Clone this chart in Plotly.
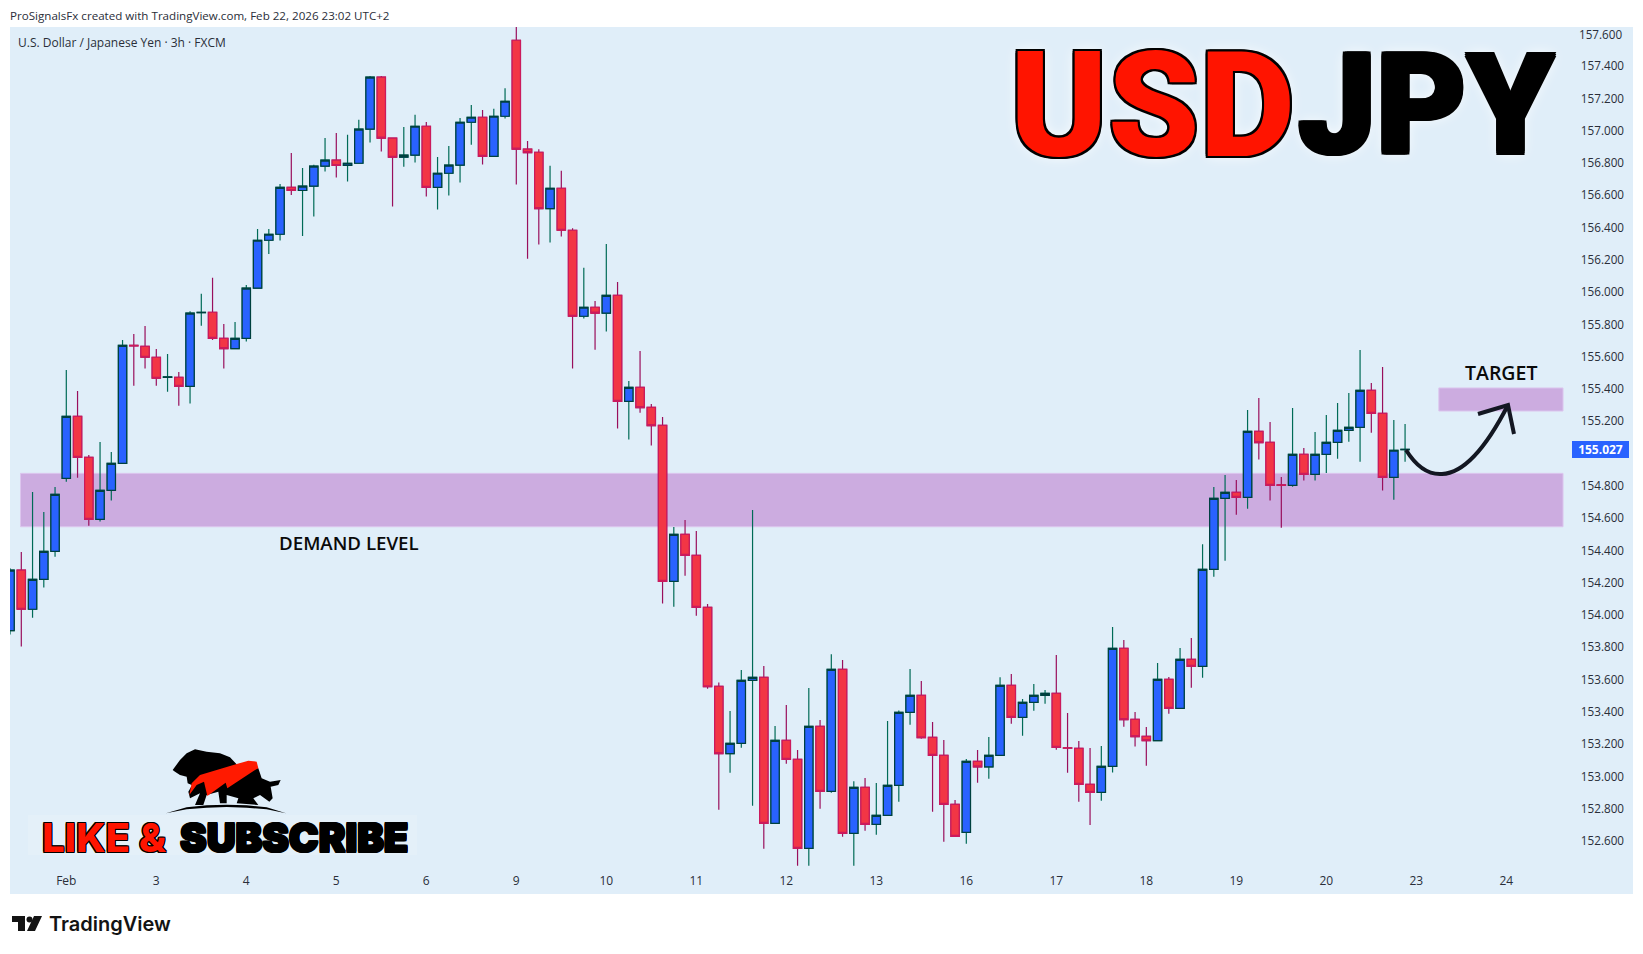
import plotly.graph_objects as go

# -----------------------------
# 1. Price data (3h bars)
# -----------------------------
open_ = [153.903, 154.279, 154.036, 154.221, 154.395, 154.847, 155.231, 154.977, 154.593, 154.773,
         154.940, 155.671, 155.665, 155.597, 155.473, 155.473, 155.417, 155.874, 155.876, 155.714,
         155.650, 155.714, 156.025, 156.322, 156.359, 156.650, 156.630, 156.657, 156.781, 156.818,
         156.785, 156.799, 157.010, 157.332, 156.954, 156.836, 156.849, 157.028, 156.650, 156.737,
         156.787, 157.053, 157.084, 156.842, 157.090, 157.561, 156.886, 156.867, 156.518, 156.644,
         156.384, 155.851, 155.907, 155.870, 155.981, 155.324, 155.411, 155.287, 155.175, 154.209,
         154.500, 154.370, 154.048, 153.558, 153.141, 153.205, 153.595, 153.614, 152.710, 153.224,
         153.106, 152.555, 153.310, 152.908, 153.663, 152.648, 152.932, 152.703, 152.759, 152.945,
         153.397, 153.502, 153.242, 153.131, 152.827, 152.654, 153.094, 153.060, 153.131, 153.564,
         153.366, 153.459, 153.502, 153.515, 153.178, 153.174, 152.951, 152.902, 153.063, 153.794,
         153.354, 153.249, 153.222, 153.602, 153.422, 153.726, 153.682, 154.283, 154.723, 154.760,
         154.729, 155.138, 155.070, 154.806, 154.804, 154.996, 154.872, 154.996, 155.070, 155.144,
         155.163, 155.392, 155.250, 154.853, 155.025]
high = [154.290, 154.391, 154.762, 154.639, 154.793, 155.518, 155.388, 154.992, 155.072, 155.010,
        155.704, 155.741, 155.791, 155.648, 155.617, 155.506, 155.882, 155.990, 156.089, 155.803,
        155.816, 156.045, 156.392, 156.392, 156.671, 156.863, 156.770, 156.789, 156.956, 156.987,
        156.975, 157.068, 157.340, 157.340, 156.954, 157.024, 157.099, 157.055, 156.838, 156.906,
        157.080, 157.160, 157.129, 157.136, 157.264, 157.646, 156.937, 156.886, 156.783, 156.752,
        156.396, 156.151, 155.946, 156.299, 156.064, 155.450, 155.636, 155.308, 155.227, 154.546,
        154.589, 154.521, 154.068, 153.583, 153.405, 153.659, 154.651, 153.684, 153.312, 153.443,
        153.164, 153.548, 153.350, 153.758, 153.721, 152.970, 152.990, 152.959, 153.343, 153.409,
        153.666, 153.591, 153.337, 153.226, 152.854, 153.108, 153.164, 153.244, 153.614, 153.635,
        153.480, 153.573, 153.535, 153.752, 153.393, 153.220, 153.176, 153.189, 153.926, 153.845,
        153.399, 153.306, 153.703, 153.616, 153.796, 153.858, 154.438, 154.793, 154.868, 154.837,
        155.270, 155.345, 155.196, 154.855, 155.283, 155.035, 155.134, 155.239, 155.314, 155.376,
        155.642, 155.438, 155.537, 155.208, 155.184]
low = [153.880, 153.806, 153.984, 154.170, 154.362, 154.826, 154.851, 154.554, 154.579, 154.709,
       154.940, 155.421, 155.527, 155.421, 155.384, 155.297, 155.310, 155.793, 155.704, 155.527,
       155.650, 155.694, 156.025, 156.237, 156.320, 156.603, 156.349, 156.469, 156.748, 156.710,
       156.686, 156.799, 156.927, 156.871, 156.531, 156.778, 156.803, 156.593, 156.512, 156.599,
       156.679, 156.913, 156.791, 156.842, 157.076, 156.667, 156.208, 156.295, 156.308, 156.345,
       155.527, 155.837, 155.644, 155.756, 155.155, 155.087, 155.254, 155.050, 154.071, 154.052,
       154.244, 153.996, 153.544, 152.794, 153.023, 153.178, 152.819, 152.553, 152.710, 153.079,
       152.447, 152.447, 152.800, 152.899, 152.627, 152.447, 152.664, 152.639, 152.759, 152.844,
       153.321, 153.234, 152.782, 152.596, 152.629, 152.584, 152.961, 152.986, 153.131, 153.327,
       153.253, 153.407, 153.451, 153.166, 153.023, 152.844, 152.699, 152.850, 153.024, 153.308,
       153.185, 153.067, 153.222, 153.389, 153.422, 153.550, 153.612, 154.238, 154.337, 154.622,
       154.659, 154.963, 154.709, 154.541, 154.795, 154.833, 154.833, 154.880, 154.969, 155.074,
       154.950, 155.130, 154.771, 154.715, 154.950]
close = [154.279, 154.036, 154.221, 154.395, 154.748, 155.231, 154.977, 154.593, 154.773, 154.940,
         155.671, 155.668, 155.597, 155.467, 155.475, 155.417, 155.870, 155.876, 155.714, 155.650,
         155.714, 156.025, 156.322, 156.359, 156.650, 156.630, 156.657, 156.781, 156.818, 156.785,
         156.799, 157.010, 157.332, 156.954, 156.836, 156.849, 157.028, 156.650, 156.737, 156.787,
         157.053, 157.084, 156.842, 157.090, 157.183, 156.886, 156.865, 156.518, 156.644, 156.384,
         155.851, 155.907, 155.870, 155.981, 155.324, 155.411, 155.285, 155.173, 154.209, 154.500,
         154.370, 154.048, 153.556, 153.141, 153.205, 153.595, 153.614, 152.710, 153.224, 153.106,
         152.555, 153.310, 152.908, 153.663, 152.648, 152.932, 152.703, 152.759, 152.945, 153.397,
         153.502, 153.240, 153.131, 152.827, 152.629, 153.094, 153.060, 153.131, 153.564, 153.366,
         153.459, 153.502, 153.515, 153.180, 153.176, 152.951, 152.902, 153.063, 153.794, 153.352,
         153.247, 153.222, 153.602, 153.422, 153.726, 153.682, 154.283, 154.723, 154.760, 154.729,
         155.138, 155.068, 154.804, 154.804, 154.996, 154.872, 154.996, 155.070, 155.144, 155.163,
         155.392, 155.250, 154.853, 155.021, 155.027]

bars = list(range(-5, 120))
body_top = [max(o, c) for o, c in zip(open_, close)]
body_bot = [min(o, c) for o, c in zip(open_, close)]

tick_bars = [0, 8, 16, 24, 32, 40, 48, 56, 64, 72, 80, 88, 96, 104, 112, 120, 128]
tick_labels = ["Feb", "3", "4", "5", "6", "9", "10", "11", "12", "13", "16", "17", "18", "19", "20", "23", "24"]
# 155.000 sits under the last price tag and 157.600 is too close to the edge for an inside axis label
price_ticks = [152.6, 152.8, 153.0, 153.2, 153.4, 153.6, 153.8, 154.0, 154.2, 154.4, 154.6, 154.8,
               155.2, 155.4, 155.6, 155.8, 156.0, 156.2, 156.4, 156.6, 156.8, 157.0, 157.2, 157.4]
price_labels = ["%.3f" % p for p in price_ticks]
top_price = 157.6
last_price = 155.027
zone_demand = [154.547, 154.878]
zone_target = [155.264, 155.407]

W, H = 1643, 954
ML, MR, MT, MB = 10, 10, 27, 60

BG = "#E0EEF9"
TEXT = "#2A2E39"
FONT = "Open Sans"


# pixel position on the page -> paper fraction, for the drawn decorations
def px(x):
    return (x - ML) / (W - ML - MR)


def py(y):
    return 1 - (y - MT) / (H - MT - MB)


def poly(points, zoom_y=720):
    parts = ["%s%.5f,%.5f" % ("L" if i else "M", px(x / 3), py(zoom_y + y / 3)) for i, (x, y) in enumerate(points)]
    return " ".join(parts) + " Z"


def outline(color, w, glow=""):
    s = ["%dpx %dpx 0 %s" % (dx * w, dy * w, color) for dx in (-1, 0, 1) for dy in (-1, 0, 1) if dx or dy]
    if glow:
        s.append(glow)
    return ", ".join(s)


# -----------------------------
# 2. Candles
# -----------------------------
fig = go.Figure()

# wicks
fig.add_trace(go.Candlestick(
    x=bars, open=open_, high=high, low=low, close=close,
    increasing=dict(line=dict(color="#006B57", width=1.2), fillcolor="#2962FF"),
    decreasing=dict(line=dict(color="#990F5C", width=1.2), fillcolor="#F23645"),
    whiskerwidth=0, showlegend=False, hoverinfo="skip",
))
# bodies on top, they have a different border colour than the wicks
fig.add_trace(go.Candlestick(
    x=bars, open=open_, high=body_top, low=body_bot, close=close,
    increasing=dict(line=dict(color="#00403F", width=1.2), fillcolor="#2962FF"),
    decreasing=dict(line=dict(color="#CC1A5C", width=1.2), fillcolor="#F23645"),
    whiskerwidth=0, showlegend=False, hoverinfo="skip",
))

# -----------------------------
# 3. Zones, arrow, logos
# -----------------------------
shapes = [
    dict(type="rect", xref="x", yref="y", x0=-4.07, x1=133.04, y0=zone_demand[0], y1=zone_demand[1],
         fillcolor="#CCACE0", line=dict(color="#DCC6EE", width=1), layer="below"),
    dict(type="rect", xref="x", yref="y", x0=122.0, x1=133.04, y0=zone_target[0], y1=zone_target[1],
         fillcolor="#CCACE0", line=dict(color="#DCC6EE", width=1), layer="below"),
]

# hand drawn arrow
arrow = "M%.5f,%.5f C%.5f,%.5f %.5f,%.5f %.5f,%.5f C%.5f,%.5f %.5f,%.5f %.5f,%.5f" % (
    px(1406), py(450), px(1416), py(466), px(1428), py(475), px(1442), py(474),
    px(1466), py(473), px(1488), py(444), px(1508), py(405))
head = "M%.5f,%.5f L%.5f,%.5f L%.5f,%.5f" % (px(1478), py(414), px(1508), py(405), px(1514), py(434))
for p in (arrow, head):
    shapes.append(dict(type="path", xref="paper", yref="paper", path=p, line=dict(color="#131722", width=4)))

# bear / bull logo
glow_box = dict(type="rect", xref="paper", yref="paper", x0=px(28), x1=px(417), y0=py(855), y1=py(815),
                fillcolor="rgba(255,255,255,0.14)", line=dict(width=0), layer="below")
shapes.append(glow_box)
bear = [(518, 150), (540, 120), (560, 100), (585, 88), (620, 95), (660, 100), (690, 112), (712, 135),
        (650, 155), (600, 170), (575, 195), (563, 190), (560, 170), (540, 165), (525, 155)]
bull = [(775, 145), (785, 175), (810, 185), (842, 180), (835, 195), (812, 200), (818, 235), (808, 245),
        (780, 225), (760, 235), (775, 255), (710, 250), (715, 235), (680, 225), (680, 250), (660, 250),
        (655, 215), (620, 225), (610, 255), (585, 255), (600, 220), (570, 235), (565, 215), (590, 170),
        (650, 150), (712, 135)]
swoosh = [(568, 225), (575, 190), (600, 165), (650, 150), (700, 135), (745, 122), (770, 125), (775, 145),
          (765, 150), (682, 205), (677, 188), (622, 228), (612, 185), (590, 195)]
ground = [(498, 280), (560, 262), (620, 256), (680, 254), (740, 256), (800, 262), (858, 280),
          (800, 268), (740, 263), (680, 261), (620, 263), (560, 268)]
for pts, col in ((bear, "#000000"), (bull, "#000000"), (swoosh, "#FF1A00"), (ground, "#000000")):
    shapes.append(dict(type="path", xref="paper", yref="paper", path=poly(pts), fillcolor=col, line=dict(width=0)))

# TradingView mark under the chart
tv_t = [(12, 916), (25, 916), (25, 931), (18, 931), (18, 922), (12, 922)]
tv_slash = [(42, 916), (34, 916), (27, 931), (35, 931)]
for pts in (tv_t, tv_slash):
    shapes.append(dict(type="path", xref="paper", yref="paper", fillcolor="#131313", line=dict(width=0),
                       path=poly([(x * 3, (y - 720) * 3) for x, y in pts])))
shapes.append(dict(type="circle", xref="paper", yref="paper", x0=px(26.5), x1=px(32.5), y0=py(922.5), y1=py(916.5),
                   fillcolor="#131313", line=dict(width=0)))

# -----------------------------
# 4. Texts
# -----------------------------
def note(text, x, y, size, color=TEXT, family=FONT, anchor="left", **font):
    return dict(text=text, xref="paper", yref="paper", x=px(x), y=py(y), xanchor=anchor, yanchor="middle",
                showarrow=False, font=dict(family=family, size=size, color=color, **font))


annotations = [
    note("ProSignalsFx created with TradingView.com, Feb 22, 2026 23:02 UTC+2", 8, 15, 11.6),
    note("U.S. Dollar / Japanese Yen · 3h · FXCM", 16, 42, 12),
    note("DEMAND LEVEL", 277, 542, 18.7, color="#0A0A0A", weight=600),
    note("TARGET", 1463, 372, 19.5, color="#0A0A0A", weight=600),
    note("USD", 1008, 106, 147, color="#FF1400", family="Roboto", weight=900,
         shadow=outline("#000000", 2, "0 0 14px #FFFFFF")),
    note("JPY", 1296, 106, 139, color="#000000", family="Roboto", weight=900,
         shadow=outline("#000000", 2, "0 0 14px #FFFFFF")),
    note("LIKE &", 40, 837.5, 40, color="#FF1400", family="Inter", weight=800,
         shadow=outline("#000000", 1)),
    note("SUBSCRIBE", 178, 837.5, 40, color="#000000", family="Inter", weight=900,
         shadow=outline("#000000", 1)),
    note("TradingView", 47, 924, 20, color="#131313", family="Inter", weight=600),
    dict(text=f"{top_price:.3f}", xref="paper", yref="y", x=px(1624), y=top_price, xanchor="right",
         yanchor="middle", showarrow=False, font=dict(family=FONT, size=11.7, color=TEXT)),
    dict(text="<b>%.3f</b>" % last_price, xref="paper", yref="y", x=px(1600), y=last_price, xanchor="center",
         yanchor="middle", showarrow=False, bgcolor="#2962FF", borderpad=2, borderwidth=0, width=53, height=13,
         font=dict(family=FONT, size=12, color="#FFFFFF")),
]

fig.update_layout(
    width=W, height=H,
    margin=dict(l=ML, r=MR, t=MT, b=MB),
    paper_bgcolor="#FFFFFF",
    plot_bgcolor=BG,
    boxmode="overlay",
    boxgap=0.26,
    boxgroupgap=0,
    showlegend=False,
    shapes=shapes,
    annotations=annotations,
    xaxis=dict(
        range=[-5.004, 139.26],
        rangeslider=dict(visible=False),
        tickmode="array", tickvals=tick_bars, ticktext=tick_labels,
        ticklabelposition="inside", ticklabelstandoff=4, ticks="",
        showgrid=False, zeroline=False, showline=False,
        tickfont=dict(family=FONT, size=12, color=TEXT),
    ),
    yaxis=dict(
        range=[152.272, 157.643],
        side="right",
        tickmode="array", tickvals=price_ticks, ticktext=price_labels,
        ticklabelposition="inside", ticklabelstandoff=6, ticks="",
        showgrid=False, zeroline=False, showline=False,
        tickfont=dict(family=FONT, size=11.7, color=TEXT),
    ),
)

# the page keeps the browser's 8px body margin otherwise
fig.write_html("out.html", config=dict(displayModeBar=False), post_script="document.body.style.margin='0';")
